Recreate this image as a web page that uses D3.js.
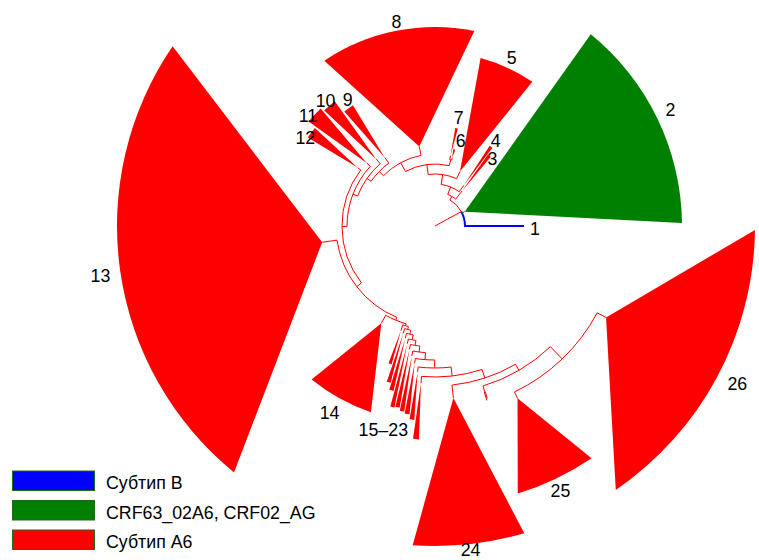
<!DOCTYPE html>
<html>
<head>
<meta charset="utf-8">
<script src="https://cdn.jsdelivr.net/npm/d3@7"></script>
<style>
  html, body { margin: 0; padding: 0; background: #ffffff; }
  svg { display: block; font-family: "Liberation Sans", Arial, sans-serif; }
</style>
</head>
<body>
<svg id="chart" width="759" height="560"></svg>
<script>
// ---- Tree topology: node, parent, branch length (substitutions per site) ----
const nodeIds = [
  "root", "B", "C2", "A6",
  "C3", "a2", "C4", "a3", "C5", "a4", "a67", "C6", "C7",
  "a5", "C8", "a6", "C9", "a7", "C10", "a8", "C11", "a9", "C12",
  "a10", "C13", "a11", "C14", "a12", "C15", "a13", "C16", "a14", "C17",
  "a15", "C18", "a16", "C19", "a17", "C20", "a18", "C21", "a19", "C22",
  "a20", "C23", "a21", "C24", "a22", "ax", "X1", "X2", "a23", "C25", "C26"
];
const nodeParents = [
  "", "root", "root", "root",
  "A6", "A6", "a2", "a2", "a3", "a3", "a4", "a67", "a67",
  "a4", "a5", "a5", "a6", "a6", "a7", "a7", "a8", "a8", "a9",
  "a9", "a10", "a10", "a11", "a11", "a12", "a12", "a13", "a13", "a14",
  "a14", "a15", "a15", "a16", "a16", "a17", "a17", "a18", "a18", "a19",
  "a19", "a20", "a20", "a21", "a21", "a22", "ax", "ax", "a22", "a23", "a23"
];
const branchLengths = [
  0.030, 0.059, 0.003, 0.004,
  0.010, 0.008, 0.008, 0.010, 0.008, 0.010, 0.006, 0.002, 0.004,
  0.010, 0.009, 0.006, 0.007, 0.005, 0.006, 0.005, 0.005, 0.005, 0.004,
  0.006, 0.015, 0.003, 0.009, 0.002, 0.006, 0.003, 0.005, 0.004, 0.005,
  0.005, 0.005, 0.005, 0.005, 0.006, 0.005, 0.007, 0.005, 0.008, 0.005,
  0.009, 0.007, 0.009, 0.013, 0.007, 0.006, 0.009, 0.007, 0.017, 0.007, 0.010
];

// ---- Terminal taxa: single sequences and collapsed clades ----
const tipIds = [
  "B", "C2", "C3", "C4", "C5", "C6", "C7", "C8", "C9", "C10", "C11", "C12",
  "C13", "C14", "C15", "C16", "C17", "C18", "C19", "C20", "C21", "C22", "C23",
  "C24", "X1", "X2", "C25", "C26"
];
const tipLabels = [
  "1", "2", "3", "4", "5", "6", "7", "8", "9", "10", "11", "12",
  "13", "14", "", "", "", "", "", "", "", "", "",
  "24", "", "", "25", "26"
];
// relative clade size (share of the circle)
const tipSizes = [
  1, 50.6, 2.5, 2.2, 19.2, 1.7, 1.7, 45.6, 4.6, 5.4, 6.6, 4.8,
  85.6, 20.2, 1.5, 1.6, 1.7, 1.5, 1.6, 1.6, 1.7, 1.6, 1.8,
  20.6, 0.3, 0.3, 17.2, 55.3
];
// height of a collapsed clade above its own root node (0 = single sequence)
const tipDepths = [
  0, 0.214, 0.045, 0.047, 0.114, 0.009, 0.028, 0.118, 0.061, 0.071, 0.071, 0.058,
  0.204, 0.086, 0.035, 0.051, 0.054, 0.065, 0.059, 0.056, 0.051, 0.048, 0.056,
  0.147, 0, 0, 0.089, 0.126
];
const tipSubtypes = [
  "B", "CRF", "A6", "A6", "A6", "A6", "A6", "A6", "A6", "A6", "A6", "A6",
  "A6", "A6", "A6", "A6", "A6", "A6", "A6", "A6", "A6", "A6", "A6",
  "A6", "A6", "A6", "A6", "A6"
];
// one shared label for a run of small clades
const groupLabelTexts = ["15–23"];
const groupMembers = [["C15", "C16", "C17", "C18", "C19", "C20", "C21", "C22", "C23"]];

// ---- Legend ----
const legendKeys = ["B", "CRF", "A6"];
const legendNames = ["Субтип B", "CRF63_02A6, CRF02_AG", "Субтип A6"];

// ---- Layout ----
const cx = 435, cy = 226;
const colors = { B: "#0000ff", CRF: "#008000", A6: "#ff0000" };
const fontSize = 17.8;
const svg = d3.select("#chart");

const rows = nodeIds.map((id, i) => ({ id, parentId: nodeParents[i], length: branchLengths[i] }));
const root = d3.stratify().id(d => d.id).parentId(d => d.parentId || null)(rows);

root.eachBefore(n => { n.dist = (n.parent ? n.parent.dist : 0) + n.data.length; });

const tipIndex = new Map(tipIds.map((id, i) => [id, i]));
const leaves = root.leaves();
const cum = d3.cumsum(leaves.map(l => tipSizes[tipIndex.get(l.id)]));
const total = cum[cum.length - 1];
// circle runs counter-clockwise from the outgroup
const angle = d3.scaleLinear().domain([0, total]).range([0.5, 0.5 - 360]);
const radius = d3.scaleLinear().domain([0, 0.32]).range([0, 320]);

leaves.forEach((l, i) => {
  const t = tipIndex.get(l.id);
  l.tip = t;
  l.a0 = angle(cum[i] - tipSizes[t]);
  l.a1 = angle(cum[i]);
  l.angle = (l.a0 + l.a1) / 2;
  l.subtype = tipSubtypes[t];
});
root.eachAfter(n => {
  if (n.children) {
    n.angle = d3.mean(n.children, c => c.angle);
    const s = new Set(n.children.map(c => c.subtype));
    n.subtype = s.size === 1 ? [...s][0] : "A6";
  }
});

const rad = deg => deg * Math.PI / 180;
const P = (deg, r) => [cx + r * Math.cos(rad(deg)), cy + r * Math.sin(rad(deg))];

// ---- Collapsed clades (wedges) ----
const gWedges = svg.append("g");
leaves.filter(l => tipDepths[l.tip] > 0).forEach(l => {
  const pad = tipSizes[l.tip] < 3 ? 0.1 : 0.2;
  const r0 = radius(l.dist);
  const R = radius(l.dist + tipDepths[l.tip]);
  const e0 = l.a0 - pad, e1 = l.a1 + pad;
  const p = d3.path();
  const [ax, ay] = P(l.angle, r0);
  const [bx, by] = P(e0, R);
  p.moveTo(ax, ay);
  p.lineTo(bx, by);
  p.arc(cx, cy, R, rad(e0), rad(e1), true);
  p.closePath();
  gWedges.append("path").attr("d", p.toString()).attr("fill", colors[l.subtype]);
});

// ---- Branches ----
const gBranches = svg.append("g").attr("fill", "none");
root.descendants().forEach(n => {
  const p = d3.path();
  if (!n.parent) {
    const [x0, y0] = P(n.angle, 0), [x1, y1] = P(n.angle, radius(n.dist));
    p.moveTo(x0, y0); p.lineTo(x1, y1);
  } else {
    const pr = radius(n.parent.dist), pa = n.parent.angle;
    const [x0, y0] = P(pa, pr);
    p.moveTo(x0, y0);
    if (Math.abs(n.angle - pa) > 1e-6) p.arc(cx, cy, pr, rad(pa), rad(n.angle), n.angle < pa);
    const [x1, y1] = P(n.angle, radius(n.dist));
    p.lineTo(x1, y1);
  }
  gBranches.append("path")
    .attr("d", p.toString())
    .attr("stroke", colors[n.subtype])
    .attr("stroke-width", n.subtype === "B" ? 2 : 1);
});

// ---- Labels ----
const capH = fontSize * 0.716;
const nudge = {
  "1": [1, 3], "2": [4, -4], "3": [-3, 12], "4": [-1, 3], "6": [4, 2], "8": [2, 2],
  "9": [5, 0], "10": [6, 3], "11": [4, 9], "12": [6, 12], "13": [-5, 3],
  "14": [-3, 4], "24": [0, -6], "25": [-2, 2], "26": [7, 1], "15–23": [-9, 14]
};
const gLabels = svg.append("g").attr("font-size", fontSize).attr("fill", "#000");
function placeLabel(text, deg, r) {
  const t = gLabels.append("text").attr("text-anchor", "middle").text(text);
  const w = t.node().getComputedTextLength();
  const [ax, ay] = P(deg, r + 5);
  const d = nudge[text] || [0, 0];
  const x = ax + (w / 2) * Math.cos(rad(deg)) + d[0];
  const y = ay + (capH / 2) * Math.sin(rad(deg)) + capH / 2 + d[1];
  t.attr("x", x).attr("y", y);
}
leaves.forEach(l => {
  const text = tipLabels[l.tip];
  if (!text) return;
  placeLabel(text, l.angle, radius(l.dist + tipDepths[l.tip]));
});
groupLabelTexts.forEach((text, gi) => {
  const members = leaves.filter(l => groupMembers[gi].includes(l.id));
  const deg = d3.mean(members, l => l.angle);
  const r = d3.mean(members, l => radius(l.dist + tipDepths[l.tip]));
  placeLabel(text, deg, r);
});

// ---- Legend ----
const gLegend = svg.append("g");
legendKeys.forEach((k, i) => {
  const y = 471 + i * 29.5;
  gLegend.append("rect")
    .attr("x", 12.5).attr("y", y).attr("width", 82).attr("height", 19.5)
    .attr("fill", colors[k]).attr("stroke", "#1d6b1d").attr("stroke-width", 1);
  gLegend.append("text")
    .attr("x", 106).attr("y", y + 18)
    .attr("font-size", fontSize).attr("fill", "#000")
    .text(legendNames[i]);
});
</script>
</body>
</html>
